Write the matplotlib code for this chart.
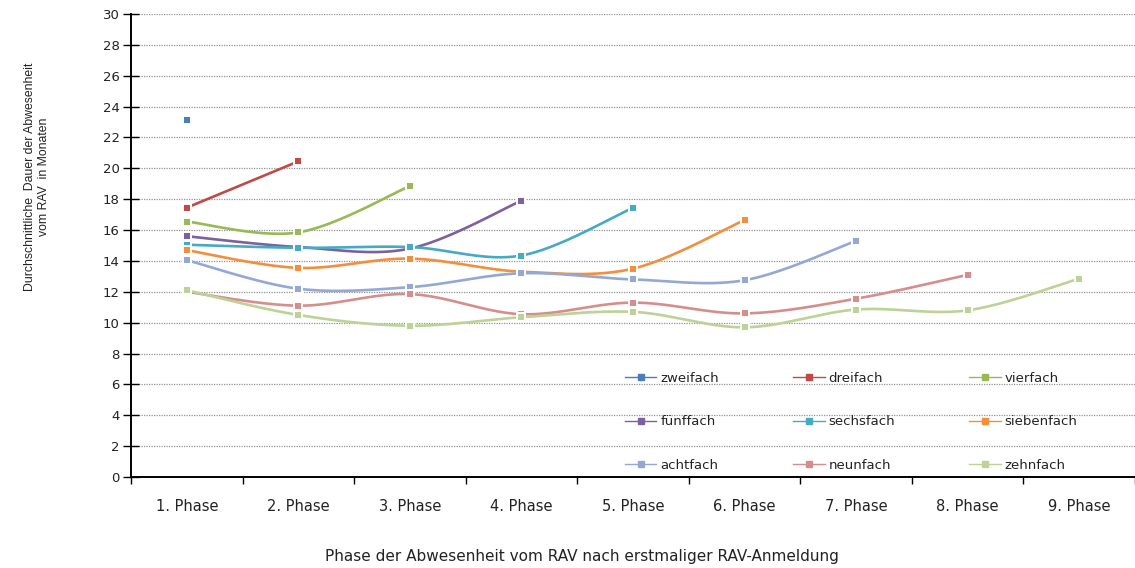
import numpy as np
import matplotlib
matplotlib.use('Agg')
import matplotlib.pyplot as plt
from matplotlib.lines import Line2D

phases = ['1. Phase', '2. Phase', '3. Phase', '4. Phase', '5. Phase',
          '6. Phase', '7. Phase', '8. Phase', '9. Phase']

names = ['zweifach', 'dreifach', 'vierfach', 'fünffach', 'sechsfach',
         'siebenfach', 'achtfach', 'neunfach', 'zehnfach']

zweifach = [23.1]
dreifach = [17.45, 20.45]
vierfach = [16.55, 15.85, 18.85]
fuenffach = [15.6, 14.9, 14.8, 17.9]
sechsfach = [15.05, 14.85, 14.9, 14.35, 17.45]
siebenfach = [14.7, 13.55, 14.15, 13.3, 13.5, 16.65]
achtfach = [14.05, 12.2, 12.3, 13.2, 12.8, 12.75, 15.3]
neunfach = [12.0, 11.1, 11.85, 10.55, 11.3, 10.6, 11.55, 13.1]
zehnfach = [12.1, 10.5, 9.8, 10.35, 10.7, 9.7, 10.85, 10.8, 12.85]

series = [zweifach, dreifach, vierfach, fuenffach, sechsfach,
          siebenfach, achtfach, neunfach, zehnfach]
colors = ['#4A7EBB', '#BE4B48', '#98B954', '#7D60A0', '#46AAC5',
          '#F28F3C', '#93A9D4', '#D68E8C', '#BCD296']

plt.rcParams['font.family'] = ['DejaVu Sans']


def smooth(ys):
    # excel-like bezier smoothing through the points
    xs = np.arange(len(ys), dtype=float)
    ys = np.array(ys, dtype=float)
    if len(ys) < 2:
        return xs, ys
    px = np.concatenate([[xs[0]], xs, [xs[-1]]])
    py = np.concatenate([[ys[0]], ys, [ys[-1]]])
    t = np.linspace(0, 1, 40)
    outx, outy = [], []
    for i in range(len(ys) - 1):
        p0 = np.array([px[i+1], py[i+1]])
        p3 = np.array([px[i+2], py[i+2]])
        c1 = p0 + (np.array([px[i+2], py[i+2]]) - np.array([px[i], py[i]])) / 6
        c2 = p3 - (np.array([px[i+3], py[i+3]]) - np.array([px[i+1], py[i+1]])) / 6
        b = ((1-t)**3)[:, None]*p0 + (3*(1-t)**2*t)[:, None]*c1 + \
            (3*(1-t)*t**2)[:, None]*c2 + (t**3)[:, None]*p3
        outx.extend(b[:, 0])
        outy.extend(b[:, 1])
    return np.array(outx), np.array(outy)


fig = plt.figure(figsize=(11.35, 5.68), dpi=100)
ax = fig.add_axes([0.1154, 0.1602, 0.8846, 0.8152])

for k, (ys, c) in enumerate(zip(series, colors)):
    sx, sy = smooth(ys)
    ax.plot(sx, sy, color=c, lw=1.9, zorder=3+k, solid_capstyle='butt')
    ax.plot(range(len(ys)), ys, ls='none', marker='s', ms=5.4,
            mfc=c, mec='white', mew=1.4, zorder=3+k)

ax.set_xlim(-0.5, 8.5)
ax.set_ylim(0, 30)
ax.set_yticks(range(0, 31, 2))
ax.set_xticks(range(9))
ax.set_xticklabels(phases)
ax.set_xticks(np.arange(-0.5, 8.6, 1), minor=True)
ax.tick_params(axis='x', which='major', length=0, pad=16, labelsize=10.5,
               labelcolor='#222222')
ax.tick_params(axis='x', which='minor', length=5, width=1, direction='out')
ax.tick_params(axis='y', length=12, width=1, direction='inout', labelsize=9.5,
               pad=2, labelcolor='#222222')

for v in range(2, 31, 2):
    ax.axhline(v, color='#939393', lw=0.9, ls=(0, (1, 1)), zorder=1)

for s in ['top', 'right']:
    ax.spines[s].set_visible(False)
ax.spines['left'].set_linewidth(1.4)
ax.spines['bottom'].set_linewidth(1.4)

fig.text(37/1135, 1 - 177/568,
         'Durchschnittliche  Dauer der Abwesenheit\nvom RAV  in Monaten',
         rotation=90, ha='center', va='center', multialignment='center',
         fontsize=8.8, family=['Liberation Sans'], color='#222222')
fig.text(582/1135, 1 - 556/568,
         'Phase der Abwesenheit vom RAV nach erstmaliger RAV-Anmeldung',
         ha='center', va='center', fontsize=11, color='#222222')

handles = [Line2D([0], [0], color=c, lw=1, marker='s', ms=4.5, mfc=c, mec=c)
           for c in colors]
order = [0, 3, 6, 1, 4, 7, 2, 5, 8]
leg = ax.legend([handles[i] for i in order], [names[i] for i in order], ncol=3,
                frameon=False, fontsize=9.5, loc='lower left',
                bbox_to_anchor=(0.48, -0.014), handlelength=2.4, handletextpad=0.3,
                columnspacing=5.6, labelspacing=2.3)
for t in leg.get_texts():
    t.set_color('#222222')

fig.savefig('out.png', dpi=100)
